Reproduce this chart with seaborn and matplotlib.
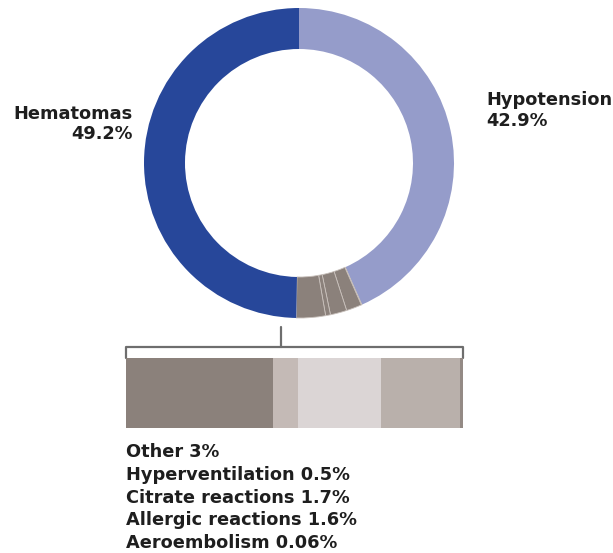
import matplotlib
matplotlib.use("Agg")
import matplotlib.pyplot as plt
import seaborn as sns
import numpy as np

# ---- data ----
main_labels = ["Hypotension", "Aeroembolism", "Allergic reactions", "Citrate reactions",
               "Hyperventilation", "Other", "Hematomas"]
main_values = [42.9, 0.06, 1.6, 1.7, 0.5, 3, 49.2]

detail_labels = ["Other", "Hyperventilation", "Citrate reactions", "Allergic reactions", "Aeroembolism"]
detail_values = [3, 0.5, 1.7, 1.6, 0.06]
detail_text = ["3%", "0.5%", "1.7%", "1.6%", "0.06%"]

# ---- styles ----
sns.set_style("white")
plt.rcParams["font.family"] = ["DejaVu Sans"]

BLUE = "#27479a"
LIGHT = "#959cca"
GREY = "#8b817b"
detail_colors = ["#8b817b", "#c4bab6", "#dbd5d5", "#b9b0ab", "#948a85"]

W, H = 613, 553
fig = plt.figure(figsize=(W / 100, H / 100), dpi=100)
ax = fig.add_axes([0, 0, 1, 1])
ax.set_xlim(0, W)
ax.set_ylim(0, H)
ax.set_aspect("equal")
ax.axis("off")

cx, cy, R = 299, H - 163, 155
colors = [LIGHT] + [GREY] * 5 + [BLUE]
wedges, _ = ax.pie(main_values, colors=colors, startangle=90, counterclock=False,
                   center=(cx, cy), radius=R, frame=True,
                   wedgeprops=dict(width=41, linewidth=0))
for w in wedges[1:6]:
    w.set_edgecolor("#c9c1bc")
    w.set_linewidth(0.6)
ax.set_xlim(0, W)
ax.set_ylim(0, H)
ax.axis("off")

# labels
lab_kw = dict(fontsize=12.8, fontweight="bold", color="#1e1e1e")
ax.text(133, H - 114, "Hematomas", ha="right", va="center", **lab_kw)
ax.text(133, H - 134, "49.2%", ha="right", va="center", **lab_kw)
ax.text(486, H - 100, "Hypotension", ha="left", va="center", **lab_kw)
ax.text(486, H - 121, "42.9%", ha="left", va="center", **lab_kw)

# bracket
lc = "#6e6e6e"
ax.plot([281, 281], [H - 327, H - 347], color=lc, lw=1.6)
ax.plot([126, 126, 463, 463], [H - 358, H - 347, H - 347, H - 358], color=lc, lw=1.6)

# detail stacked bar with seaborn (overlapping cumulative bars)
bx0, bx1, by0, by1 = 126, 463, H - 428, H - 358
bax = fig.add_axes([bx0 / W, by0 / H, (bx1 - bx0) / W, (by1 - by0) / H])
cum = np.cumsum(detail_values)
for i in range(len(cum) - 1, -1, -1):
    sns.barplot(x=[cum[i]], y=[0], orient="h", color=detail_colors[i],
                width=1.0, saturation=1, ax=bax, linewidth=0)
bax.set_xlim(0, cum[-1])
bax.set_ylim(0.5, -0.5)
bax.axis("off")

# detail text list
for i, (lab, t) in enumerate(zip(detail_labels, detail_text)):
    ax.text(126, H - (452 + i * 22.8), f"{lab} {t}", ha="left", va="center", **lab_kw)

fig.savefig("out.png", dpi=100)
